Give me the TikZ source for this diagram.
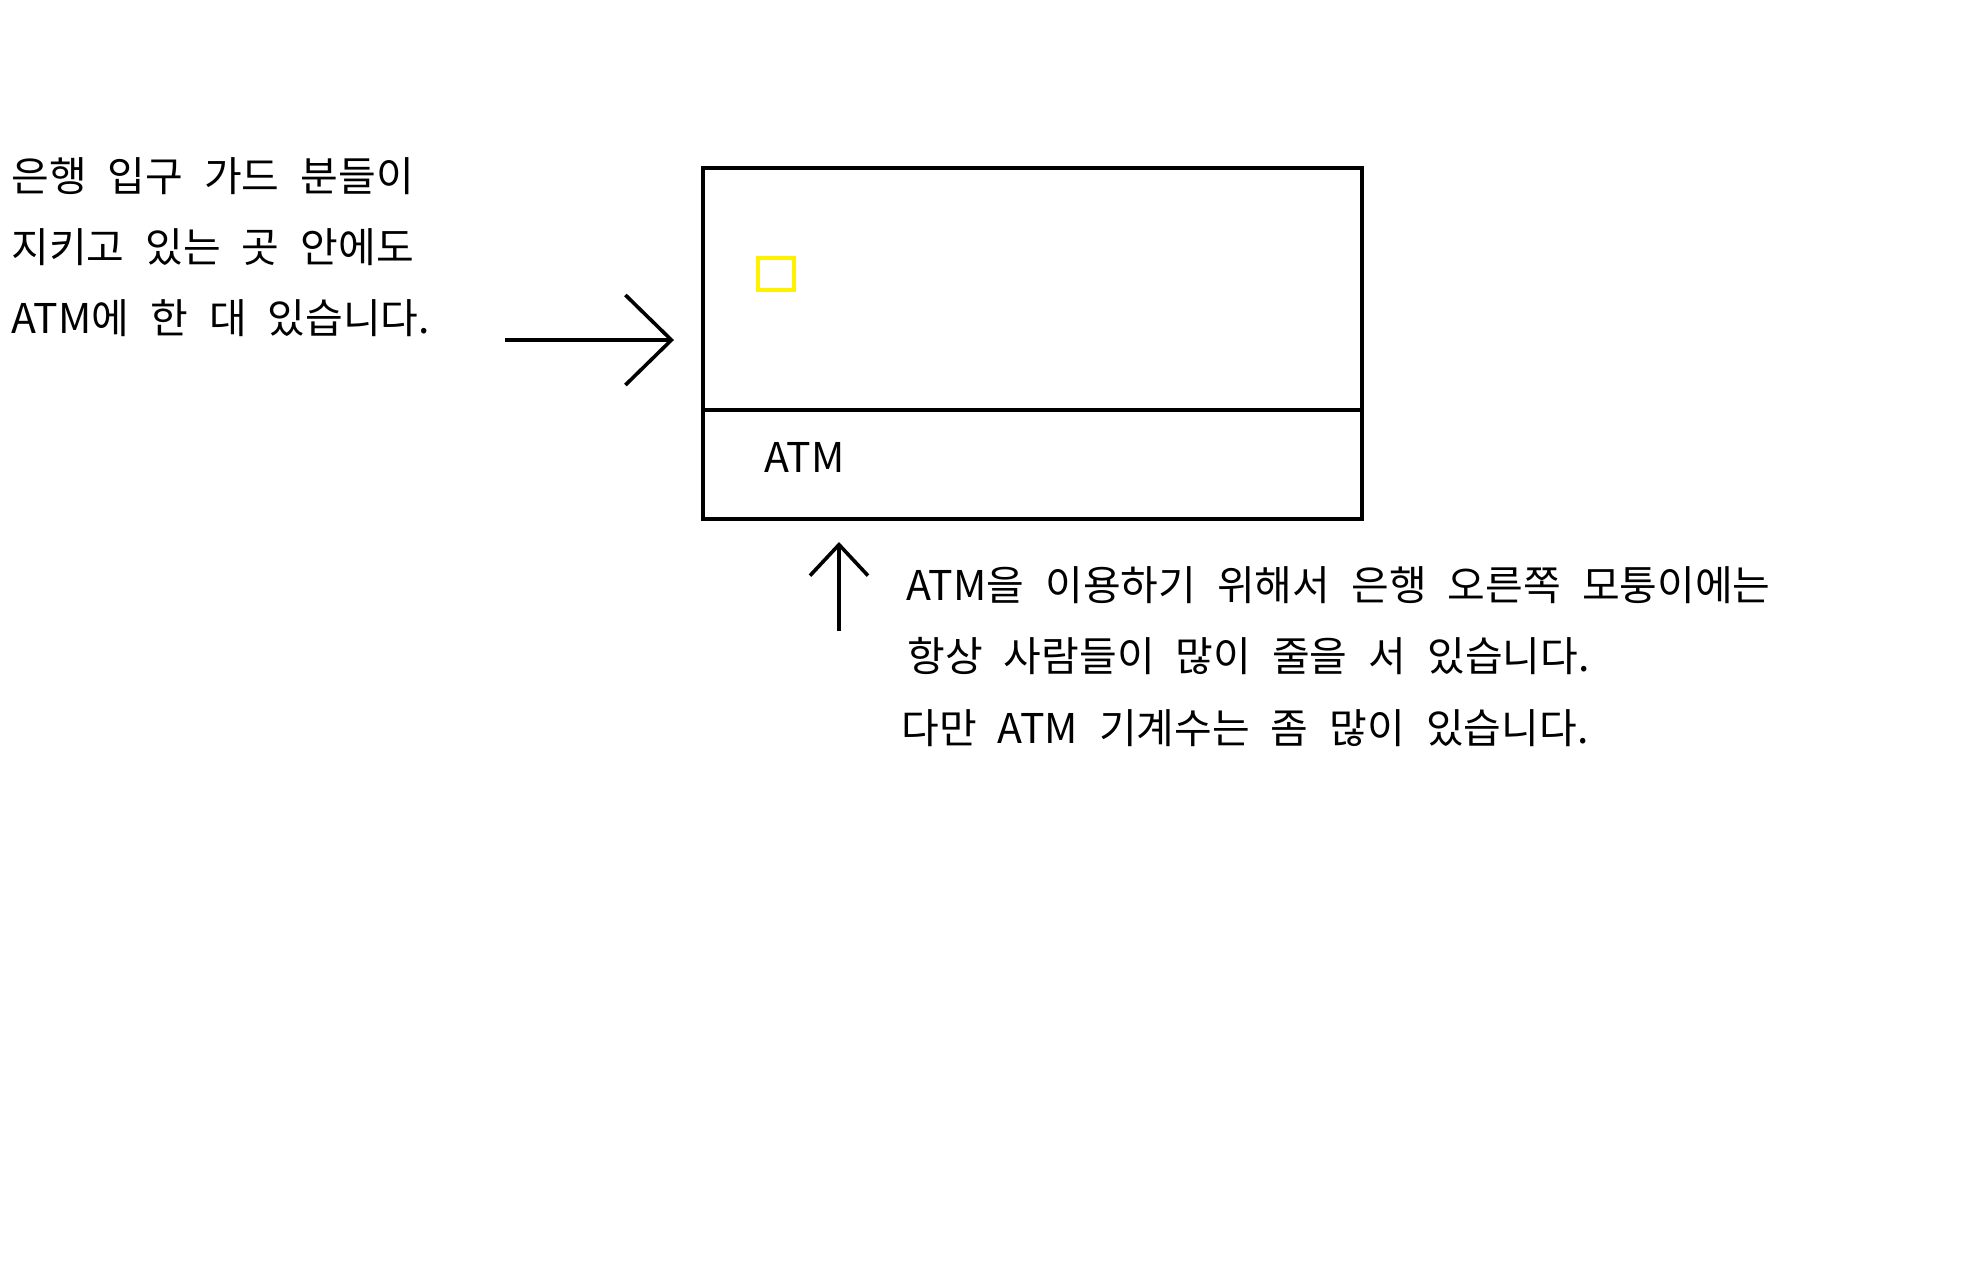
\documentclass[tikz,border=0pt]{standalone}
\usepackage{fontspec}
\setmainfont{Noto Sans CJK KR}
\usetikzlibrary{arrows.meta}
\definecolor{paintyellow}{RGB}{255,242,0}
\newcommand\lblfont{\fontsize{20.5}{24}\selectfont\setlength{\spaceskip}{10.5pt}}
\begin{document}
\begin{tikzpicture}[x=0.5pt,y=-0.5pt,
  txt/.style={anchor=base west,inner sep=0pt,font=\lblfont},
  panel/.style={draw=black,line width=2.2pt,inner sep=0pt}]
\useasboundingbox (0,0) rectangle (1976,1276);
% ATM box
\node[panel,minimum width=329.5pt,minimum height=175.5pt] (box) at (1032.5,343.5) {};
\coordinate (dl) at (703,410);
\coordinate (dr) at (1362,410);
\draw[line width=2.2pt] (dl) -- (dr);
\node[draw=paintyellow,line width=2pt,minimum width=18pt,minimum height=16pt,inner sep=0pt] (card) at (776,274) {};
\node[txt] (atm) at (764,472) {ATM};
% left text
\node[txt] (l1) at (11,191) {은행 입구 가드 분들이};
\node[txt] (l2) at (11,262) {지키고 있는 곳 안에도};
\node[txt] (l3) at (11,333) {ATM에 한 대 있습니다.};
% right text
\node[txt] (r1) at (906,600) {ATM을 이용하기 위해서 은행 오른쪽 모퉁이에는};
\node[txt] (r2) at (907,671) {항상 사람들이 많이 줄을 서 있습니다.};
\node[txt] (r3) at (901,743) {다만 ATM 기계수는 좀 많이 있습니다.};
% arrows
\coordinate (la) at (505,340);
\coordinate (lb) at (674,340);
\draw[line width=1.8pt,-{Straight Barb[length=23pt,width=45pt]}] (la) -- (lb);
\coordinate (ua) at (839,631);
\coordinate (ub) at (839,542);
\draw[line width=1.8pt,-{Straight Barb[length=15.5pt,width=29pt]}] (ua) -- (ub);
\end{tikzpicture}
\end{document}
